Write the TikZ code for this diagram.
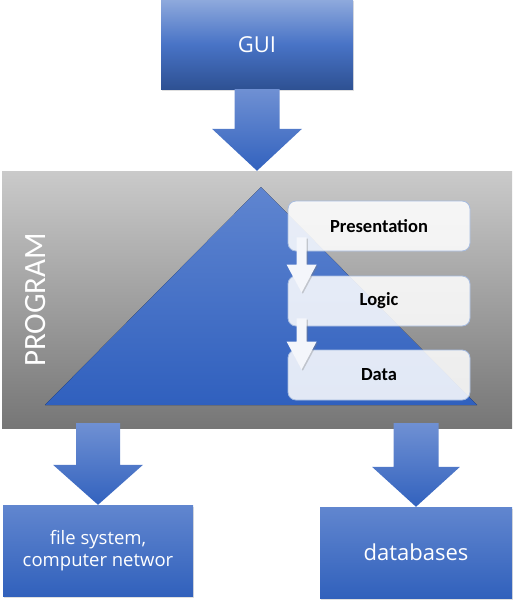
\documentclass[tikz,border=0pt]{standalone}
\usepackage{fontspec}
\setmainfont{Open Sans}
\newfontfamily\calibri{Carlito}
\usetikzlibrary{calc,shadows}

\definecolor{guitop}{HTML}{8EA9DC}
\definecolor{guimid}{HTML}{4873C6}
\definecolor{guibot}{HTML}{2E5193}
\definecolor{arrtop}{HTML}{6F90D3}
\definecolor{arrbot}{HTML}{3262BE}
\definecolor{boxtop}{HTML}{6186CF}
\definecolor{boxbot}{HTML}{3161BC}
\definecolor{tritop}{HTML}{5F85D0}
\definecolor{tribot}{HTML}{3060BE}
\definecolor{paneltop}{HTML}{CACACA}
\definecolor{panelbot}{HTML}{767676}
\definecolor{layerline}{HTML}{A7BCE0}
\definecolor{arrowwhite}{HTML}{F4F6FB}

\tikzset{
  bluebox/.style={rectangle, text=white, align=center, top color=boxtop, bottom color=boxbot,
    drop shadow={shadow xshift=1pt, shadow yshift=-1.5pt, opacity=0.25}},
  layer/.style={rectangle, rounded corners=8pt, draw=layerline, line width=0.8pt,
    fill=white, fill opacity=0.86, text opacity=1, minimum width=182pt, minimum height=50pt,
    font=\calibri\bfseries\fontsize{18.5}{20}\selectfont},
  bluearrow/.style={top color=arrtop, bottom color=arrbot},
  whitearrow/.style={fill=arrowwhite,
    drop shadow={shadow xshift=1.2pt, shadow yshift=-1.2pt, opacity=0.35}}
}

% block arrow: start, tip, half shaft, half head, head length, style
\newcommand{\blockarrow}[6]{%
  \path[#6] let \p1=(#1), \p2=(#2) in
    (\x1-#3pt,\y1) -- (\x1+#3pt,\y1) -- (\x1+#3pt,\y2+#5pt) -- (\x1+#4pt,\y2+#5pt)
    -- (\x1,\y2) -- (\x1-#4pt,\y2+#5pt) -- (\x1-#3pt,\y2+#5pt) -- cycle;}

\begin{document}
\begin{tikzpicture}[x=1pt, y=-1pt]
\useasboundingbox (0,0) rectangle (514,602);

% program panel
\node (program) at (257,299.5) [rectangle, minimum width=510pt, minimum height=257pt,
  top color=paneltop, bottom color=panelbot] {};
\node (programlabel) at (36,300) [rotate=90, text=white, font=\calibri\fontsize{31}{33}\selectfont] {PROGRAM};

% triangle
\coordinate (apex) at (261,187);
\coordinate (baseleft) at (45,405);
\coordinate (baseright) at (477,405);
\fill[top color=tritop, bottom color=tribot] (baseleft) -- (apex) -- (baseright) -- cycle;

% layers
\node (pres) at (379,226) [layer] {Presentation};
\node (logic) at (379,301) [layer] {Logic};
\node (data) at (379,375) [layer] {Data};

\blockarrow{$(pres.south west)+(14,-14)$}{$(logic.north west)+(14,17)$}{5}{15}{28}{whitearrow}
\blockarrow{$(logic.south west)+(14,-8)$}{$(data.north west)+(14,20)$}{5}{15}{28}{whitearrow}

% outer boxes
\node (gui) at (257,44.5) [bluebox, minimum width=192pt, minimum height=89pt,
  top color=guitop, bottom color=guibot, middle color=guimid,
  font=\fontsize{22}{24}\selectfont] {GUI};
\node (fs) at (98,550.5) [bluebox, minimum width=190pt, minimum height=91pt,
  font=\fontsize{18.5}{22}\selectfont] {file system,\\computer networ};
\node (db) at (416,552.5) [bluebox, minimum width=192pt, minimum height=91pt,
  font=\fontsize{22}{24}\selectfont] {databases};

\blockarrow{gui.south}{gui.south |- program.north}{22.5}{45}{42}{bluearrow}
\blockarrow{$(fs.north |- program.south)+(0,-5)$}{fs.north}{22}{45}{40}{bluearrow}
\blockarrow{$(db.north |- program.south)+(0,-5)$}{db.north}{22.5}{44}{40}{bluearrow}

\end{tikzpicture}
\end{document}
